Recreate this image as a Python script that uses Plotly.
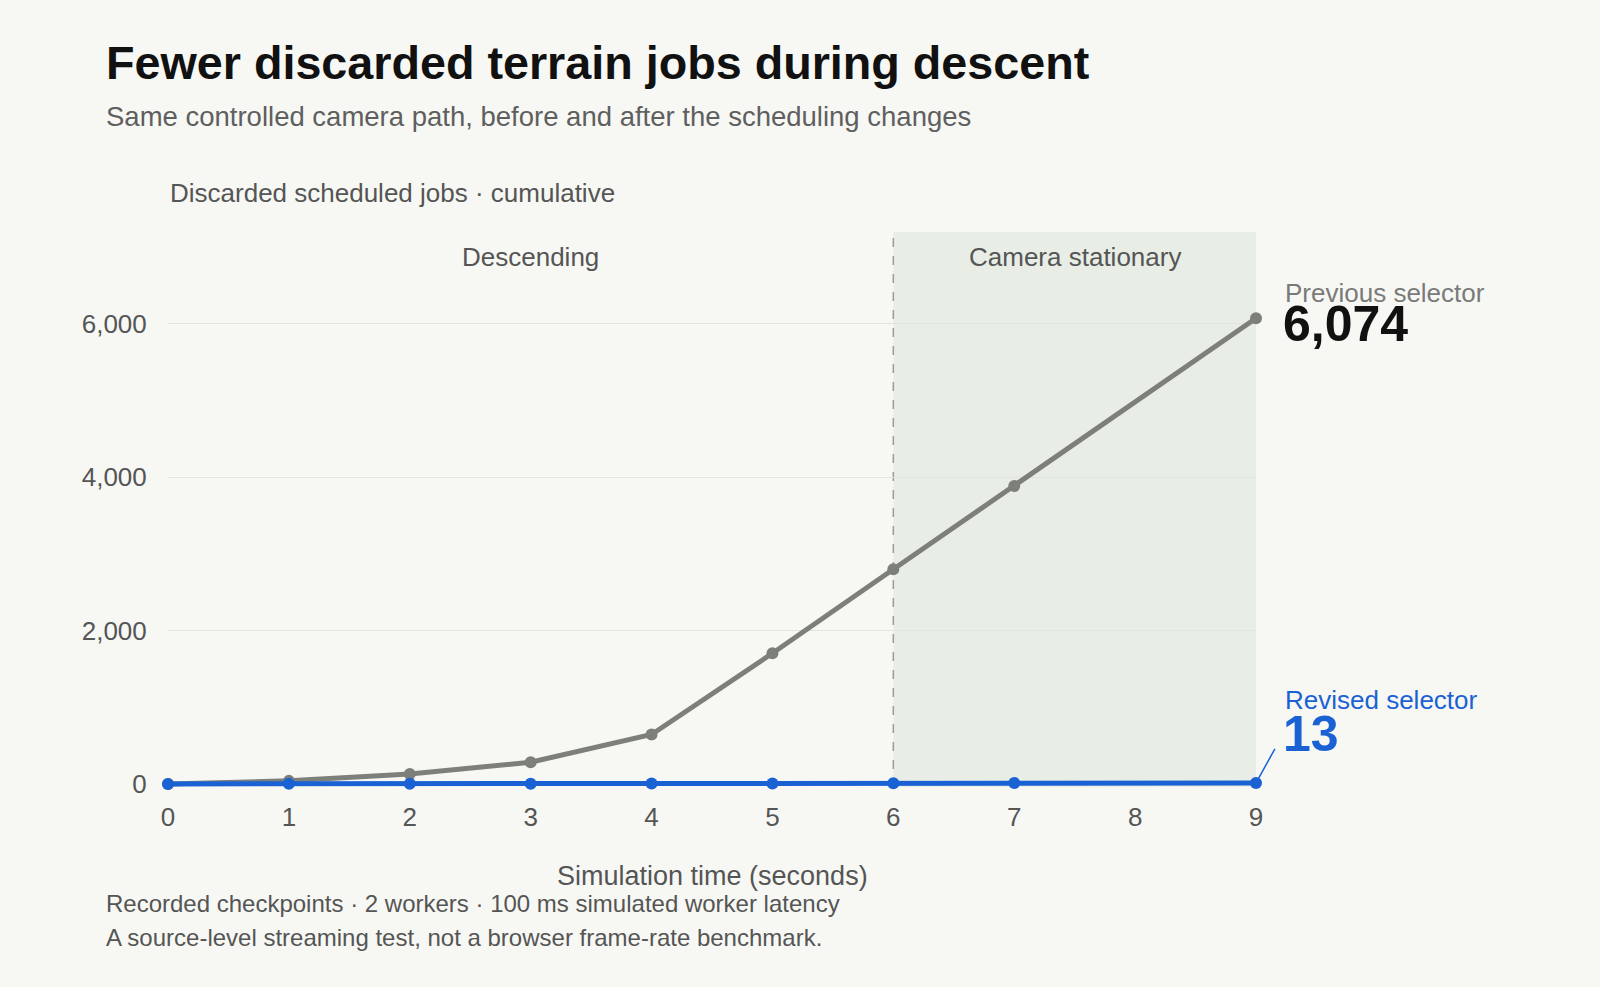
import plotly.graph_objects as go

# data
seconds = [0, 1, 2, 3, 4, 5, 6, 7, 9]
previous_selector = [0, 40, 130, 283, 645, 1705, 2800, 3887, 6074]
revised_selector = [0, 1, 2, 3, 5, 7, 9, 11, 13]
y_ticks = [0, 2000, 4000, 6000]
y_tick_labels = ["0", "2,000", "4,000", "6,000"]
x_ticks = list(range(10))

BG = "#f7f8f4"
SHADE = "#e8ede6"
GREY = "#7d807a"
BLUE = "#1a62d4"
FONT = "Liberation Sans, Arial, sans-serif"

W, H = 1600, 987
L, R, T, B = 168, 344, 232, 200
PW, PH = W - L - R, H - T - B


def px_x(px):
    return (px - L) / PW


def px_y(py):
    return (H - B - py) / PH


fig = go.Figure()

fig.add_trace(go.Scatter(
    x=seconds, y=previous_selector, mode="lines+markers",
    line=dict(color=GREY, width=5), marker=dict(color=GREY, size=12),
    cliponaxis=False, showlegend=False, hoverinfo="x+y",
))
fig.add_trace(go.Scatter(
    x=seconds, y=revised_selector, mode="lines+markers",
    line=dict(color=BLUE, width=5), marker=dict(color=BLUE, size=12),
    cliponaxis=False, showlegend=False, hoverinfo="x+y",
))

# stationary phase band and divider
fig.add_shape(type="rect", xref="x", yref="paper", x0=6, x1=9, y0=0, y1=1,
              fillcolor=SHADE, line=dict(width=0), layer="below")
fig.add_shape(type="line", xref="x", yref="paper", x0=6, x1=6, y0=0, y1=1,
              line=dict(color="#9a9c97", width=1.5, dash="dash"), layer="below")

# leader line to the revised label
fig.add_annotation(x=9, y=revised_selector[-1], xref="x", yref="y", text=" ",
                   font=dict(size=1), showarrow=True, arrowhead=0, arrowwidth=1.5,
                   arrowcolor=BLUE, ax=20, ay=-36, standoff=5)

ann = [
    dict(text="<b>Fewer discarded terrain jobs during descent</b>", x=px_x(104), y=px_y(63),
         font=dict(size=46.7, color="#111111")),
    dict(text="Same controlled camera path, before and after the scheduling changes",
         x=px_x(104), y=px_y(117), font=dict(size=27.5, color="#5f5f5f")),
    dict(text="Discarded scheduled jobs · cumulative", x=px_x(168), y=px_y(193),
         font=dict(size=26, color="#555555")),
    dict(text="Recorded checkpoints · 2 workers · 100 ms simulated worker latency",
         x=px_x(104), y=px_y(903), font=dict(size=24, color="#555555")),
    dict(text="A source-level streaming test, not a browser frame-rate benchmark.",
         x=px_x(104), y=px_y(937), font=dict(size=24, color="#555555")),
    dict(text="Simulation time (seconds)", x=0.5, y=px_y(876), xanchor="center",
         font=dict(size=27, color="#555555")),
    dict(text="Previous selector", x=px_x(1283), y=px_y(293),
         font=dict(size=26, color="#7a7a7a")),
    dict(text="<b>%s</b>" % f"{previous_selector[-1]:,}", x=px_x(1281), y=px_y(324),
         font=dict(size=50, color="#111111")),
    dict(text="Revised selector", x=px_x(1283), y=px_y(700),
         font=dict(size=26, color=BLUE)),
    dict(text="<b>%s</b>" % f"{revised_selector[-1]:,}", x=px_x(1281), y=px_y(734),
         font=dict(size=50, color=BLUE)),
]
for a in ann:
    a.setdefault("xanchor", "left")
    fig.add_annotation(xref="paper", yref="paper", yanchor="middle",
                       showarrow=False, **a)

# phase labels
fig.add_annotation(text="Descending", xref="x", yref="paper", x=3, y=px_y(257),
                   xanchor="center", yanchor="middle", showarrow=False,
                   font=dict(size=26, color="#555555"))
fig.add_annotation(text="Camera stationary", xref="x", yref="paper", x=7.5, y=px_y(257),
                   xanchor="center", yanchor="middle", showarrow=False,
                   font=dict(size=26, color="#555555"))

fig.update_layout(
    width=W, height=H,
    margin=dict(l=L, r=R, t=T, b=B),
    paper_bgcolor=BG, plot_bgcolor=BG,
    font=dict(family=FONT, color="#555555"),
    showlegend=False,
)
fig.update_xaxes(
    range=[0, 9], tickvals=x_ticks, showgrid=False, zeroline=False,
    showline=False, ticks="outside", ticklen=7, tickcolor="rgba(0,0,0,0)",
    tickfont=dict(size=26, color="#555555"),
)
fig.update_yaxes(
    range=[-40, 7200], tickvals=y_ticks, ticktext=y_tick_labels,
    showgrid=True, gridcolor="#e2e4df", gridwidth=1, zeroline=False,
    showline=False, ticks="outside", ticklen=15, tickcolor="rgba(0,0,0,0)",
    tickfont=dict(size=26, color="#555555"),
)

fig.write_html(
    "out.html",
    config={"displayModeBar": False},
    post_script="document.body.style.margin='0';document.body.style.background='%s';" % BG,
)
